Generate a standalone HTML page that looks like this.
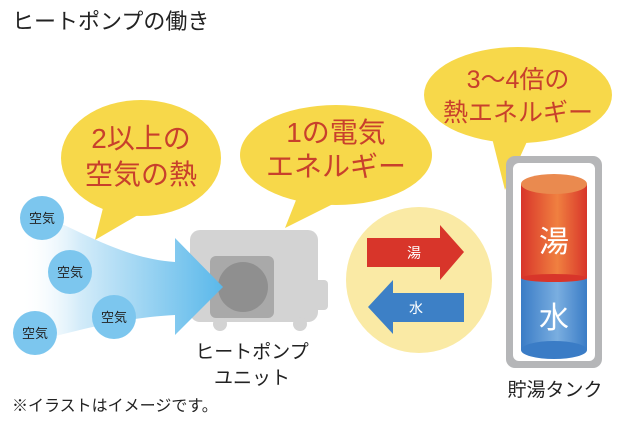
<!DOCTYPE html>
<html><head><meta charset="utf-8"><style>
html,body{margin:0;padding:0;background:#fff;}
svg{display:block;font-family:"Liberation Sans","Noto Sans CJK JP",sans-serif;}
</style></head><body>
<svg width="640" height="427" viewBox="0 0 640 427">
<defs>
<linearGradient id="air" x1="0" x2="1" y1="0" y2="0">
<stop offset="0" stop-color="#ffffff" stop-opacity="0"/>
<stop offset="0.3" stop-color="#d2ebf9"/>
<stop offset="1" stop-color="#5ab8ea"/>
</linearGradient>
<linearGradient id="red" x1="0" x2="1"><stop offset="0" stop-color="#d8352a"/><stop offset="0.55" stop-color="#f08040"/><stop offset="1" stop-color="#d8352a"/></linearGradient>
<linearGradient id="blue" x1="0" x2="1"><stop offset="0" stop-color="#3a7cc6"/><stop offset="0.55" stop-color="#7aaee0"/><stop offset="1" stop-color="#3a7cc6"/></linearGradient>
</defs>
<text x="12" y="29" font-size="22" fill="#222">ヒートポンプの働き</text>

<!-- bubbles -->
<g fill="#f7d84a">
<ellipse cx="141" cy="158" rx="80" ry="58"/>
<path d="M105 200 L95 240 L150 208 Z"/>
<ellipse cx="336" cy="155" rx="96" ry="50"/>
<path d="M300 190 L285 228 L345 198 Z"/>
<ellipse cx="518" cy="95" rx="94" ry="48"/>
<path d="M490 130 L505 190 L530 135 Z"/>
</g>
<g fill="#c8402c" font-size="28" text-anchor="middle">
<text x="141" y="148">2以上の</text>
<text x="141" y="184">空気の熱</text>
<text x="336" y="142">1の電気</text>
<text x="336" y="176">エネルギー</text>
<text x="518" y="88" font-size="25">3〜4倍の</text>
<text x="518" y="121" font-size="25">熱エネルギー</text>
</g>

<!-- heat pump unit -->
<rect x="190" y="230" width="128" height="92" rx="10" fill="#d3d3d3"/>
<rect x="314" y="280" width="14" height="30" rx="4" fill="#d3d3d3"/>
<circle cx="220" cy="324" r="7" fill="#d3d3d3"/><circle cx="300" cy="324" r="7" fill="#d3d3d3"/>
<rect x="210" y="256" width="64" height="62" rx="6" fill="#a9a9a9"/>
<circle cx="243" cy="287" r="25" fill="#8f8f8f"/>

<!-- air arrow -->
<path d="M20 205 C80 230 120 258 175 262 L175 238 L223 287 L175 335 L175 315 C120 318 80 330 20 345 Z" fill="url(#air)"/>
<g fill="#7cc6ee">
<circle cx="42" cy="218" r="22"/><circle cx="70" cy="272" r="22"/><circle cx="114" cy="317" r="22"/><circle cx="35" cy="333" r="22"/>
</g>
<g font-size="13" fill="#222" text-anchor="middle">
<text x="42" y="223">空気</text><text x="70" y="277">空気</text><text x="114" y="322">空気</text><text x="35" y="338">空気</text>
</g>
<g font-size="19" fill="#222" text-anchor="middle">
<text x="252" y="358">ヒートポンプ</text>
<text x="252" y="384">ユニット</text>
</g>
<text x="12" y="411" font-size="16" fill="#222">※イラストはイメージです。</text>

<!-- circle arrows -->
<circle cx="419" cy="280" r="73" fill="#faeaa5"/>
<path d="M367 238 L440 238 L440 225 L464 252 L440 280 L440 267 L367 267 Z" fill="#d8352a"/>
<path d="M464 293 L393 293 L393 280 L368 307 L393 334 L393 322 L464 322 Z" fill="#3d80c6"/>
<text x="414" y="258" font-size="14" fill="#fff" text-anchor="middle">湯</text>
<text x="416" y="313" font-size="14" fill="#fff" text-anchor="middle">水</text>

<!-- tank -->
<rect x="506" y="156" width="96" height="212" rx="9" fill="#b5b6b8"/>
<rect x="513" y="163" width="82" height="198" rx="6" fill="#fff"/>
<rect x="521" y="278" width="66" height="72" fill="url(#blue)"/>
<ellipse cx="554" cy="350" rx="33" ry="9" fill="#3a7cc6"/>
<rect x="521" y="184" width="66" height="94" fill="url(#red)"/>
<ellipse cx="554" cy="278" rx="33" ry="4" fill="#d8352a"/>
<ellipse cx="554" cy="184" rx="33" ry="10" fill="#ea8a4f"/>
<text x="554" y="252" font-size="30" fill="#fff" text-anchor="middle">湯</text>
<text x="554" y="328" font-size="30" fill="#fff" text-anchor="middle">水</text>
<text x="555" y="396" font-size="19" fill="#222" text-anchor="middle">貯湯タンク</text>
</svg>
</body></html>
